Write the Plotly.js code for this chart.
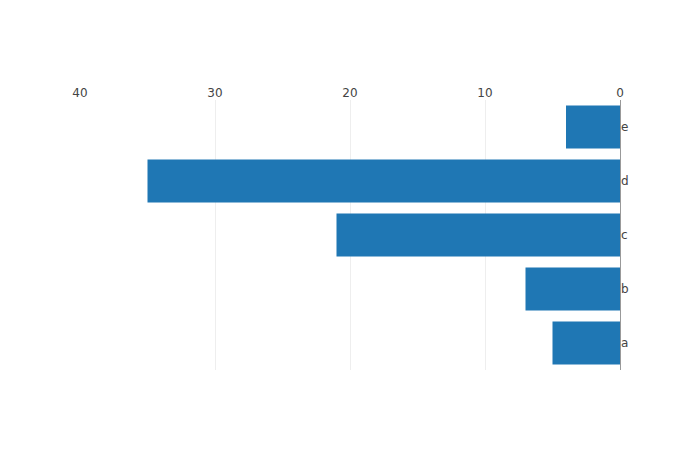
<!DOCTYPE html>
<html>
<head>
<script src="https://cdn.plot.ly/plotly-3.0.1.min.js"></script>
<style>body{margin:0;}</style>
</head>
<body>
<div id="chart" style="width:700px;height:450px;"></div>
<script>
const categories = ["a", "b", "c", "d", "e"];
const values = [5, 7, 21, 35, 4];

Plotly.newPlot("chart", [{
  type: "bar",
  orientation: "h",
  x: values,
  y: categories,
  marker: {color: "#1f77b4"}
}], {
  width: 700,
  height: 450,
  font: {family: "'DejaVu Sans', Verdana, sans-serif"},
  xaxis: {range: [40, 0], side: "top", zerolinecolor: "#999"},
  yaxis: {side: "right"},
  showlegend: false
}, {displayModeBar: false});
</script>
</body>
</html>
